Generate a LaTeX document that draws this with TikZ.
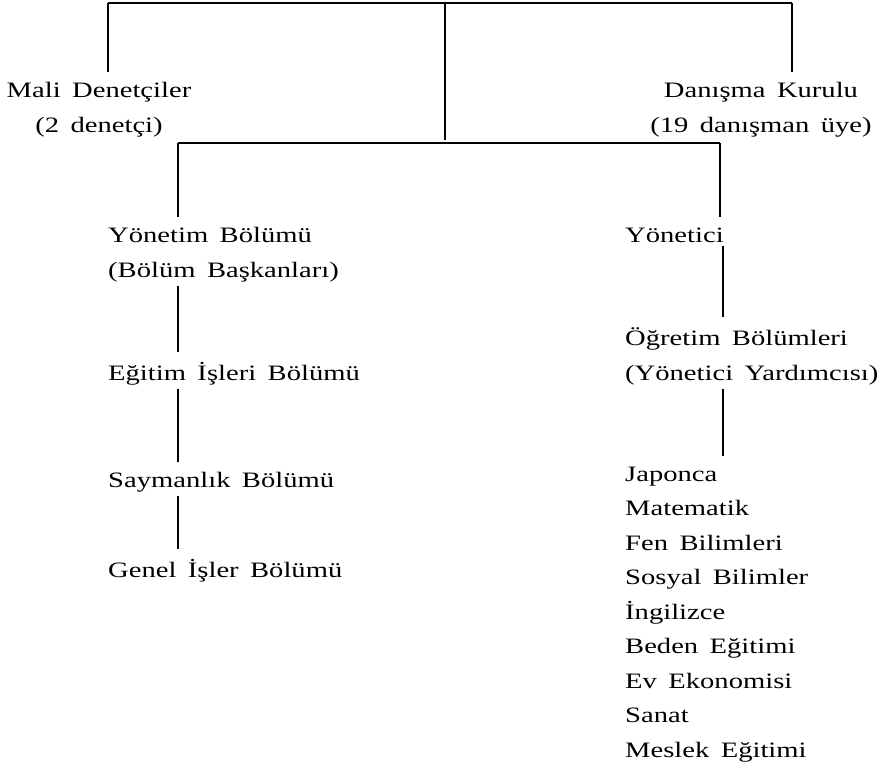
\documentclass[tikz,border=0pt]{standalone}
\usepackage{fontspec}
\setmainfont{Liberation Serif}[FakeStretch=1.3,WordSpace=1.6]
\usepackage{xcolor}

\begin{document}
\begin{tikzpicture}[x=1pt,y=-1pt,
  lbl/.style={inner sep=4pt, font=\fontsize{22}{34.5}\selectfont},
  bar/.style={line width=1.4pt},
  link/.style={line width=1.8pt, shorten >=6pt}]

% ============================================================
% 参数区
% ============================================================

\def\ColL{178}     % 左列竖线
\def\ColR{723}     % 右列竖线
\def\TextL{104}    % 左列文字
\def\TextR{621}    % 右列文字

\useasboundingbox (0,0) rectangle (887,764);

% ============================================================
% 第一层
% ============================================================

\coordinate (topL) at (108,3);
\coordinate (topM) at (445,3);
\coordinate (topR) at (792,3);

% 多行节点：base 锚点在最后一行
\node[lbl, align=center, anchor=base] (mali) at (99,132)
  {Mali Denetçiler\\(2 denetçi)};
\node[lbl, align=center, anchor=base] (danisma) at (761,132)
  {Danışma Kurulu\\(19 danışman üye)};

\draw[bar] (topL) -- (topR);
\draw[link] (topL) -- (topL |- mali.north);
\draw[link] (topR) -- (topR |- danisma.north);

% ============================================================
% 第二层
% ============================================================

\coordinate (barL) at (\ColL,143);
\coordinate (barR) at (720,143);

\draw[link, shorten >=3pt] (topM) -- (topM |- barL);
\draw[bar] (barL) -- (barR);

% ============================================================
% 左列
% ============================================================

\node[lbl, align=left, anchor=base west] (yonetim) at (\TextL,277)
  {Yönetim Bölümü\\(Bölüm Başkanları)};
\node[lbl, anchor=base west] (egitim) at (\TextL,380) {Eğitim İşleri Bölümü};
\node[lbl, anchor=base west] (sayman) at (\TextL,487) {Saymanlık Bölümü};
\node[lbl, anchor=base west] (genel) at (\TextL,577) {Genel İşler Bölümü};

\draw[link] (barL) -- (barL |- yonetim.north);
\draw[link] (\ColL,0 |- yonetim.south) -- (\ColL,0 |- egitim.north);
\draw[link] (\ColL,0 |- egitim.south) -- (\ColL,0 |- sayman.north);
\draw[link] (\ColL,0 |- sayman.south) -- (\ColL,0 |- genel.north);

% ============================================================
% 右列
% ============================================================

\node[lbl, anchor=base west] (yonetici) at (\TextR,242) {Yönetici};
\node[lbl, align=left, anchor=base west] (ogretim) at (\TextR,380)
  {Öğretim Bölümleri\\(Yönetici Yardımcısı)};
\node[lbl, align=left, anchor=base west] (dersler) at (\TextR,757)
  {Japonca\\Matematik\\Fen Bilimleri\\Sosyal Bilimler\\İngilizce\\%
   Beden Eğitimi\\Ev Ekonomisi\\Sanat\\Meslek Eğitimi};

\draw[link] (barR) -- (barR |- yonetici.north);
\draw[link] (\ColR,0 |- yonetici.south) -- (\ColR,0 |- ogretim.north);
\draw[link] (\ColR,0 |- ogretim.south) -- (\ColR,0 |- dersler.north);

\end{tikzpicture}
\end{document}
